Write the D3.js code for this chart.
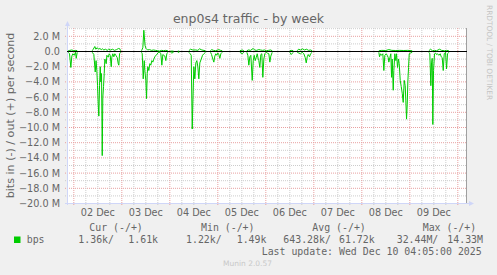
<!DOCTYPE html>
<html>
<head>
<meta charset="utf-8">
<script src="https://cdn.jsdelivr.net/npm/d3@7"></script>
<style>
  html, body { margin: 0; padding: 0; background: #f0f0f0; }
  svg { display: block; font-family: "DejaVu Sans", sans-serif; }
  .mono { font-family: "DejaVu Sans Mono", monospace; }
</style>
</head>
<body>
<div id="chart"></div>
<script>
/* munin: enp0s4 traffic - by week
   time = hours since 02 Dec 00:00, value = Mbit/s (in is drawn negative), null = no data */

const bpsIn = [
  [-2.8,-0.1],[-2.15,-0.3],[-1.5,-2.1],[-1.0,-0.6],[-0.5,-0.3],[0.2,-0.5],[0.85,-0.1],[1.2,-0.9],[1.7,-0.1], null,
  [9.2,-0.1],[10.0,-0.4],[10.7,-2.7],[11.1,-1.2],[11.5,-2.5],[11.85,-4.5],[12.2,-7.0],[12.5,-8.5],[12.85,-4.5],
  [13.2,-2.0],[13.5,-4.0],[13.85,-2.9],[14.2,-13.7],[14.5,-6.0],[14.85,-4.6],[15.2,-2.9],[15.5,-1.0],[15.85,-1.3],
  [16.2,-1.6],[16.5,-0.5],[17.2,-0.75],[17.7,-0.3],[18.2,-0.5],[18.7,-2.0],[19.0,-0.75],[19.5,-0.3],[20.0,-0.7],
  [20.5,-0.3],[21.0,-0.5],[21.7,-0.8],[22.2,-1.6],[22.5,-1.8],[22.85,-0.3],[23.35,-0.1], null,
  [33.85,-0.1],[34.2,-0.3],[34.7,-3.6],[35.2,-1.2],[35.5,-2.5],[36.0,-3.8],[36.35,-6.2],[36.7,-2.9],[37.0,-2.0],
  [37.5,-2.5],[38.0,-1.6],[38.5,-1.8],[39.0,-1.2],[39.5,-1.4],[40.0,-1.0],[40.5,-0.7],[41.0,-0.5],[41.5,-0.4],
  [42.0,-0.2],[42.5,-0.1],[43.0,-0.1],[43.5,-0.3],[44.0,-1.8],[44.5,-0.4],[45.0,-0.5],[45.5,-0.6],[46.0,-1.2],
  [46.5,-0.3],[47.0,-0.1], null,
  [48.35,-0.1],[49.0,-0.2],[49.85,-0.1], null,
  [52.0,-0.1],[52.7,-0.1], null,
  [57.5,-0.1],[58.2,-0.3],[58.7,-0.5],[59.2,-10.2],[59.5,-6.9],[60.0,-2.0],[60.5,-3.6],[61.0,-1.5],[61.5,-1.2],
  [62.0,-2.0],[62.5,-3.6],[63.0,-1.5],[63.7,-1.0],[64.35,-0.5],[65.0,-0.3],[65.85,-0.1], null,
  [68.35,-0.1],[68.85,-0.4],[69.5,-1.0],[70.0,-1.4],[70.5,-0.6],[71.0,-0.3],[71.5,-0.5],[72.0,-0.2],[72.5,-0.4],
  [73.0,-0.9],[73.5,-0.3],[74.2,-0.1], null,
  [83.0,-0.1],[84.2,-0.3],[85.0,-0.1], null,
  [86.5,-0.1],[87.0,-0.5],[87.5,-1.8],[88.0,-0.7],[88.5,-0.5],[89.2,-3.8],[89.7,-1.2],[90.2,-0.5],[90.7,-1.2],
  [91.2,-0.8],[91.7,-0.3],[92.2,-1.0],[92.5,-1.2],[93.0,-2.1],[93.5,-0.4],[94.0,-0.3],[94.5,-3.4],[95.0,-1.0],
  [95.5,-0.3],[96.2,-0.1],[96.7,-0.2],[97.5,-0.3],[98.0,-1.4],[98.5,-0.6],[99.2,-0.1], null,
  [108.0,-0.1],[108.7,-0.4],[109.7,-0.1], null,
  [111.7,-0.1],[112.5,-0.2],[113.35,-0.3],[114.2,-0.1],[115.0,-0.3],[115.7,-0.8],[116.2,-1.5],[116.7,-0.7],
  [117.2,-0.4],[117.85,-0.7],[118.35,-0.3],[119.2,-0.1], null,
  [152.5,-0.1],[152.85,-0.7],[153.35,-0.3],[153.85,-0.5],[154.5,-0.3],[155.0,-2.5],[155.5,-0.5],[156.2,-0.3],
  [156.7,-0.5],[157.2,-0.8],[157.5,-1.4],[158.0,-0.8],[158.5,-0.3],[158.85,-3.4],[159.2,-1.0],[159.7,-5.1],
  [160.0,-2.5],[160.5,-0.3],[161.0,-1.2],[161.35,-0.3],[161.85,-2.1],[162.35,-1.0],[162.7,-1.6],[163.2,-3.8],
  [163.7,-4.6],[164.2,-5.5],[164.7,-6.7],[165.2,-3.8],[165.7,-4.5],[166.0,-6.5],[166.35,-8.9],[166.7,-7.0],
  [167.0,-4.0],[167.35,-2.1],[167.7,-0.3],[168.35,-0.2],[169.2,-0.1], null,
  [177.5,-0.1],[178.0,-0.3],[178.5,-4.5],[178.85,-1.5],[179.2,-0.9],[179.5,-9.6],[179.85,-2.5],[180.35,-0.3],
  [180.85,-0.2],[181.35,-0.4],[181.85,-0.3],[182.5,-0.5],[183.2,-0.3],[183.7,-0.7],[184.2,-0.8],[184.7,-2.5],
  [185.2,-0.3],[185.85,-0.1],[186.35,-2.3],[186.85,-0.3],[187.5,-0.1]
];

const bpsOut = [
  [-2.8,0.1],[-2.0,0.15],[-1.0,0.2],[0.0,0.1],[1.0,0.15],[1.7,0.1], null,
  [9.2,0.1],[9.7,0.3],[10.5,0.66],[11.0,0.3],[11.7,0.5],[12.35,0.3],[13.0,0.4],[13.7,0.25],[14.35,0.35],
  [15.0,0.2],[15.85,0.3],[16.7,0.15],[17.35,0.3],[18.35,0.2],[19.35,0.3],[20.35,0.15],[21.35,0.25],
  [22.35,0.4],[23.0,0.35],[23.35,0.1], null,
  [33.85,0.1],[34.5,0.5],[35.0,2.8],[35.6,0.8],[36.1,0.4],[36.85,0.2],[37.85,0.25],[38.85,0.15],[39.85,0.2],
  [40.85,0.15],[41.85,0.1],[42.85,0.05],[43.85,0.15],[44.85,0.1],[45.85,0.15],[47.0,0.1], null,
  [48.35,0.05],[49.85,0.05], null,
  [52.0,0.05],[52.7,0.05], null,
  [57.5,0.1],[58.3,0.3],[59.5,0.2],[61.0,0.2],[62.0,0.15],[62.85,0.35],[64.0,0.2],[65.85,0.1], null,
  [68.35,0.1],[68.85,0.25],[69.85,0.15],[70.85,0.1],[72.5,0.25],[73.35,0.15],[74.2,0.1], null,
  [83.0,0.1],[84.2,0.2],[85.0,0.1], null,
  [86.5,0.1],[87.35,0.2],[88.35,0.15],[89.7,0.4],[90.35,0.2],[91.35,0.15],[92.5,0.25],[93.35,0.2],
  [94.35,0.15],[95.35,0.2],[96.35,0.1],[97.35,0.15],[98.35,0.2],[99.2,0.1], null,
  [108.0,0.1],[108.7,0.15],[109.7,0.1], null,
  [111.7,0.1],[112.35,0.3],[113.35,0.2],[114.35,0.35],[115.35,0.2],[116.35,0.3],[117.35,0.15],[118.35,0.2],
  [119.2,0.1], null,
  [152.5,0.1],[154.0,0.15],[156.0,0.13],[157.5,0.25],[159.0,0.15],[161.0,0.13],[163.0,0.15],[165.0,0.13],
  [167.0,0.15],[169.2,0.1], null,
  [177.5,0.1],[178.35,0.3],[179.35,0.1],[180.35,0.15],[181.35,0.1],[182.85,0.3],[183.85,0.15],[185.35,0.1],
  [186.35,0.15],[187.5,0.1]
];

const dayLabels = ["02 Dec", "03 Dec", "04 Dec", "05 Dec", "06 Dec", "07 Dec", "08 Dec", "09 Dec"];
const yTicks = [2, 0, -2, -4, -6, -8, -10, -12, -14, -16, -18, -20];
const legendHeads = ["Cur (-/+)", "Min (-/+)", "Avg (-/+)", "Max (-/+)"];
const legendValues = ["1.36k/", "1.61k", "1.22k/", "1.49k", "643.28k/", "61.72k", "32.44M/", "14.33M"];
const lastUpdate = "Last update: Wed Dec 10 04:05:00 2025";

const fullW = 497, fullH = 275;
const plot = { left: 67, right: 467, top: 28, bottom: 203 };

const svg = d3.select("#chart").append("svg")
  .attr("width", fullW).attr("height", fullH);

svg.append("rect").attr("width", fullW).attr("height", fullH).attr("fill", "#f0f0f0");

// hours since 02 Dec 00:00 -> px ; window is 01 Dec 20:50 .. 10 Dec 04:50
const x = d3.scaleLinear().domain([-3.1667, 196.8333]).range([plot.left + 0.5, plot.right + 0.5]);
const y = d3.scaleLinear().domain([-20, 3]).range([plot.bottom + 0.5, plot.bottom + 0.5 - 23 * 7.6]);

svg.append("rect")
  .attr("x", plot.left).attr("y", plot.top)
  .attr("width", plot.right - plot.left).attr("height", plot.bottom - plot.top)
  .attr("fill", "#ffffff");

const grid = svg.append("g");

// horizontal grid: 1M minor, 2M major
d3.range(-19, 4).forEach(v => {
  if (v === 0) return;
  grid.append("line")
    .attr("x1", plot.left - 2).attr("x2", plot.right)
    .attr("y1", y(v)).attr("y2", y(v))
    .attr("stroke", v % 2 === 0 ? "#e8a0a0" : "#cccccc")
    .attr("stroke-dasharray", "1,1");
});

// vertical grid: 6 h minor, day major
d3.range(-0, 197, 6).concat([-6]).forEach(h => {
  if (x(h) < plot.left) return;
  grid.append("line")
    .attr("x1", x(h)).attr("x2", x(h))
    .attr("y1", plot.top).attr("y2", plot.bottom + 2)
    .attr("stroke", h % 24 === 0 ? "#e8a0a0" : "#cccccc")
    .attr("stroke-dasharray", "1,1");
});

// axes (munin AXIS/ARROW colour)
const axisCol = "#cfd6f8";
svg.append("line").attr("x1", plot.left - 2).attr("x2", plot.right + 3)
  .attr("y1", plot.bottom + 0.5).attr("y2", plot.bottom + 0.5).attr("stroke", axisCol);
svg.append("line").attr("x1", plot.left + 0.5).attr("x2", plot.left + 0.5)
  .attr("y1", plot.bottom + 2).attr("y2", plot.top - 4).attr("stroke", axisCol);
svg.append("path").attr("d", `M${plot.right + 2},${plot.bottom - 2} L${plot.right + 7},${plot.bottom + 0.5} L${plot.right + 2},${plot.bottom + 3} Z`)
  .attr("fill", axisCol);
svg.append("path").attr("d", `M${plot.left - 2},${plot.top - 2} L${plot.left + 0.5},${plot.top - 7} L${plot.left + 3},${plot.top - 2} Z`)
  .attr("fill", axisCol);

// right frame line
svg.append("line").attr("x1", plot.right - 0.5).attr("x2", plot.right - 0.5)
  .attr("y1", plot.top).attr("y2", plot.bottom)
  .attr("stroke", "#a0a0a0");

// zero rule
svg.append("line").attr("x1", plot.left).attr("x2", plot.right)
  .attr("y1", y(0)).attr("y2", y(0))
  .attr("stroke", "#000000");

// data
const line = d3.line()
  .defined(d => d !== null)
  .x(d => x(d[0]))
  .y(d => y(d[1]));

[bpsIn, bpsOut].forEach(series => {
  svg.append("path")
    .datum(series)
    .attr("d", line)
    .attr("fill", "none")
    .attr("stroke", "#00cc00")
    .attr("stroke-width", 1);
});

// y tick labels
svg.selectAll(".ylab").data(yTicks).enter().append("text")
  .attr("class", "ylab")
  .attr("x", 60).attr("y", d => y(d) + 3.5)
  .attr("text-anchor", "end")
  .attr("font-size", "9.7px").attr("fill", "#666666")
  .text(d => d === 0 ? "0.0" : d3.format(".1f")(d) + " M");

// x tick labels (centred on noon)
svg.selectAll(".xlab").data(dayLabels).enter().append("text")
  .attr("class", "xlab")
  .attr("x", (d, i) => x(12 + 24 * i)).attr("y", 216)
  .attr("text-anchor", "middle")
  .attr("font-size", "9.7px").attr("fill", "#666666")
  .text(d => d);

// title
svg.append("text")
  .attr("x", 248.5).attr("y", 22.5)
  .attr("text-anchor", "middle")
  .attr("font-size", "12.5px").attr("fill", "#666666")
  .text("enp0s4 traffic - by week");

// vertical label
svg.append("text")
  .attr("transform", `translate(14,${(plot.top + plot.bottom) / 2}) rotate(-90)`)
  .attr("text-anchor", "middle")
  .attr("font-size", "11.1px").attr("fill", "#666666")
  .text("bits in (-) / out (+) per second");

// watermarks
svg.append("text")
  .attr("transform", "translate(487,5) rotate(90)")
  .attr("font-size", "7.4px").attr("fill", "#c4c4c4")
  .text("RRDTOOL / TOBI OETIKER");

svg.append("text")
  .attr("x", 247.5).attr("y", 266)
  .attr("text-anchor", "middle")
  .attr("font-size", "7.5px").attr("fill", "#c8c8c8")
  .text("Munin 2.0.57");

// legend
const headX = [89.3, 201, 312.3, 422.7];
const valX = [78.3, 128.3, 186, 236.7, 283.3, 339, 396.7, 447.3];

svg.append("rect").attr("x", 14).attr("y", 236.5).attr("width", 6.5).attr("height", 6.5).attr("fill", "#00cc00");
svg.append("text").attr("class", "mono").attr("x", 26.7).attr("y", 243.3)
  .attr("font-size", "9.9px").attr("fill", "#666666").text("bps");

svg.selectAll(".lhead").data(legendHeads).enter().append("text")
  .attr("class", "mono").attr("x", (d, i) => headX[i]).attr("y", 230.5)
  .attr("font-size", "9.9px").attr("fill", "#666666").text(d => d);

svg.selectAll(".lval").data(legendValues).enter().append("text")
  .attr("class", "mono").attr("x", (d, i) => valX[i]).attr("y", 243.3)
  .attr("font-size", "9.9px").attr("fill", "#666666").text(d => d);

svg.append("text").attr("class", "mono").attr("x", 261.7).attr("y", 255)
  .attr("font-size", "9.9px").attr("fill", "#666666").text(lastUpdate);
</script>
</body>
</html>
